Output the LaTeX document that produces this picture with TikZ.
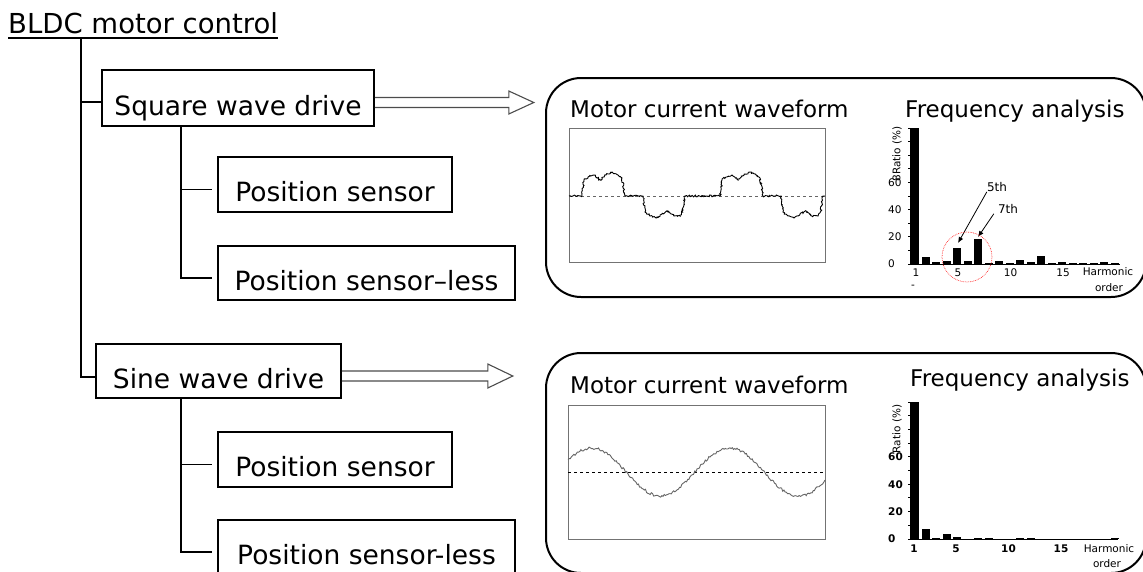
\documentclass[tikz,border=0pt]{standalone}
\usepackage{fontspec}
\setmainfont{DejaVu Sans}
\usetikzlibrary{arrows.meta,decorations.pathmorphing}

\newcommand{\headfont}{\fontsize{27.5}{30}\selectfont}
\newcommand{\treefont}{\fontsize{26.5}{30}\selectfont}
\newcommand{\panelfont}{\fontsize{23}{26}\selectfont}
\newcommand{\chartfont}{\fontsize{10.5}{12}\selectfont}
\newcommand{\notefont}{\fontsize{12}{14}\selectfont}

\tikzset{
  tree/.style={line width=1.6pt},
  item/.style={draw, line width=1.6pt, font=\treefont, inner sep=0pt, text height=34pt, text depth=0pt},
  hollow/.style={draw=black!70, line width=1.1pt, line join=miter},
  panel/.style={line width=2pt, rounded corners=35pt},
  title/.style={anchor=base west, inner sep=0pt, font=\panelfont},
  frame/.style={draw=black!55, line width=0.9pt},
  zeroA/.style={draw=black!60, dashed, line width=0.9pt},
  zeroB/.style={draw=black, dashed, line width=0.8pt},
  squarewave/.style={line width=0.9pt, decorate, decoration={random steps, segment length=1.2pt, amplitude=0.9pt}},
  sinewave/.style={draw=black!60, line width=0.9pt},
  axis/.style={line width=1pt},
  tick/.style={inner sep=0pt, font=\chartfont},
  tickbold/.style={inner sep=0pt, font=\chartfont\bfseries},
  note/.style={inner sep=0pt, font=\notefont},
  callout/.style={line width=0.8pt, -{Latex[length=6pt,width=5pt]}},
  hot/.style={draw=red!85, densely dotted, line width=0.7pt}
}

\begin{document}
\begin{tikzpicture}[x=1pt,y=-1pt]
\path[use as bounding box] (0,0) rectangle (1143,571);
\clip (0,0) rectangle (1143,571);
\pgfmathsetseed{7}

\node[anchor=base west, inner sep=0pt, font=\headfont] (title) at (8,33) {BLDC motor control};
\draw[tree] ([yshift=-5pt]title.base west) -- ([yshift=-5pt]title.base east);
\coordinate (root) at ([xshift=73pt,yshift=-5pt]title.base west);

\node[item, minimum width=272, minimum height=56] (sq) at (238,98) {Square wave drive};
\node[item, minimum width=234, minimum height=55] (sqps) at (335,184.5) {Position sensor};
\node[item, minimum width=297, minimum height=54] (sqpsl) at (366.5,273) {Position sensor--less};

\node[item, minimum width=245, minimum height=54] (sin) at (218.5,371) {Sine wave drive};
\node[item, minimum width=234, minimum height=55] (sinps) at (335,459.5) {Position sensor};
\node[item, minimum width=297, minimum height=54] (sinpsl) at (366.5,547) {Position sensor-less};

\coordinate (sqin) at ([yshift=-4pt]sq.west);
\draw[tree] (root |- sqin) -- (sqin);
\draw[tree] (root) |- ([yshift=-6pt]sin.west);

\coordinate (sqfork) at ([xshift=-57pt]sq.south);
\coordinate (sqpsin) at ([xshift=-5pt,yshift=-5pt]sqps.west);
\draw[tree] (sqfork |- sqpsin) -- (sqpsin);
\draw[tree] (sqfork) |- ([xshift=-5pt,yshift=-5pt]sqpsl.west);

\coordinate (sinfork) at ([xshift=-37.5pt]sin.south);
\coordinate (sinpsin) at ([xshift=-5pt,yshift=-5pt]sinps.west);
\draw[tree] (sinfork |- sinpsin) -- (sinpsin);
\draw[tree] (sinfork) |- ([xshift=-5pt,yshift=-5pt]sinpsl.west);

\draw[hollow] ([yshift=0.5pt]sq.east) -- ++(134,0) -- ++(0,-6.5) -- ++(25,11.5) -- ++(-25,11.5) -- ++(0,-6.5) -- ++(-134,0);
\draw[hollow] (sin.east) -- ++(146,0) -- ++(0,-7) -- ++(25,12) -- ++(-25,12) -- ++(0,-7) -- ++(-146,0);

\draw[panel] (546,78) rectangle (1146,297);
\draw[panel] (546,353) rectangle (1146,573);

\node[title] (waveA) at (570,117) {Motor current waveform};
\node[title] (freqA) at (905,117) {Frequency analysis};
\node[title] (waveB) at (570,393) {Motor current waveform};
\node[title] (freqB) at (910,386) {Frequency analysis};

\draw[frame] (569,128) rectangle (825,262);
\draw[zeroA] (569,196) -- (825,196);
\draw[squarewave] (569,196) -- (582,196) -- (584,180) -- (588,177) -- (594,175) -- (600,180) -- (606,175) -- (612,172) -- (618,175) -- (622,178) -- (625,196) -- (643,196) -- (645,212) -- (650,216) -- (656,218) -- (662,214) -- (668,211) -- (674,216) -- (680,216) -- (683,210) -- (685,196) -- (720,196) -- (722,180) -- (726,177) -- (732,175) -- (738,180) -- (744,175) -- (750,172) -- (756,175) -- (760,178) -- (763,196) -- (781,196) -- (783,212) -- (788,216) -- (794,218) -- (800,214) -- (806,211) -- (812,216) -- (818,216) -- (821,210) -- (823,196) -- (825,196);

\draw[frame] (568,405) rectangle (825,539);
\draw[zeroB] (568,472) -- (825,472);
\draw[sinewave] plot[domain=568:825, samples=220] (\x, {472-24*sin(2.6087*(\x-695))+1.3*rand});

\draw[axis] (910,128) -- (910,264) -- (1120,264);
\foreach \v in {0,10,...,100} \draw[axis] (910,{264-1.36*\v}) -- ++(-2.5,0);
\foreach \k/\h in {1/100,2/5.4,3/1.7,4/2.5,5/11.6,6/2.2,7/18.5,8/0.5,9/2.2,10/0.5,11/3,12/1.5,13/6.2,14/0.5,15/1.5,16/0.5,17/0.5,18/0.5,19/1.5,20/0.5}
  \fill ({911+10.5*(\k-1)},264) rectangle ++(8,{-1.36*\h});
\foreach \v in {0,20,40,60} \node[tick, anchor=west] (ylabA\v) at (888,{264-1.36*\v}) {\v};
\foreach \n in {1,5,10,15} \node[tick] (xlabA\n) at ({916+10.5*(\n-1)},273) {\n};
\node[tick] (dashA) at (913,287) {-};
\node[tick] (harmA) at (1108,272) {Harmonic};
\node[tick] (orderA) at (1109,288) {order};
\node[tick, rotate=90] (ratioA) at (897,154) {8Ratio (\%)};

\node[note] (fifth) at (997,187) {5th};
\node[note] (seventh) at (1008,209) {7th};
\coordinate (tipfive) at (958,243);
\coordinate (tipseven) at (978,237);
\draw[callout] (fifth.south west) -- (tipfive);
\draw[callout] ([xshift=-4pt]seventh.south west) -- (tipseven);
\draw[hot] (967,257) circle[radius=25pt];

\draw[axis] (910,402) -- (910,539) -- (1118,539);
\foreach \v in {0,10,...,100} \draw[axis] (910,{539-1.37*\v}) -- ++(-2.5,0);
\foreach \k/\h in {1/100,2/7.3,3/0.8,4/3.9,5/1.5,6/0.3,7/0.8,8/0.8,9/0.3,10/0.3,11/0.8,12/0.8,13/0.3,14/0.3,15/0.3,16/0.3,17/0.3,18/0.3,19/0.3,20/0.8}
  \fill ({911+10.5*(\k-1)},539) rectangle ++(8,{-1.37*\h});
\foreach \v in {0,20,40,60} \node[tickbold, anchor=west] (ylabB\v) at (888,{539-1.37*\v}) {\v};
\foreach \n in {1,5,10,15} \node[tickbold] (xlabB\n) at ({914+10.5*(\n-1)},549) {\n};
\node[tick] (harmB) at (1109,549) {Harmonic};
\node[tick] (orderB) at (1107,564) {order};
\node[tick, rotate=90] (ratioB) at (897,429) {Ratio (\%)};

\end{tikzpicture}
\end{document}
